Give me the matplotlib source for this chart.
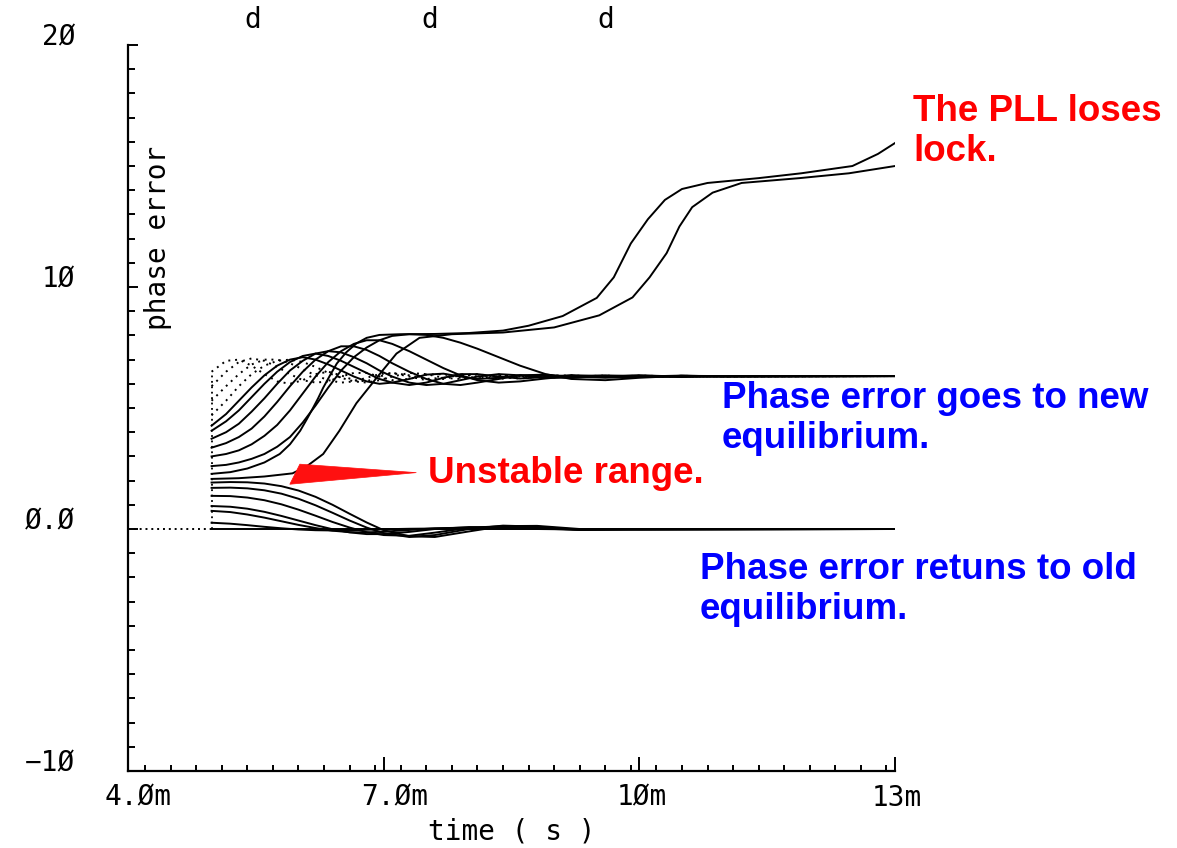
import numpy as np
import matplotlib.pyplot as plt
import matplotlib.transforms as mtransforms
from matplotlib.patches import Polygon
from matplotlib.ticker import MultipleLocator

# time is in ms, phase error in rad
t_step = 4.98

# curves that fall back to the old equilibrium
t_ret = [4.98, 5.2, 5.4, 5.6, 5.8, 6.0, 6.2, 6.4, 6.6, 6.8, 7.0, 7.3, 7.6, 8.0, 8.4, 8.8, 9.3, 10.0, 13.0]
ret_0 = [0.0] * 19
ret_1 = [0.26, 0.22, 0.16, 0.09, 0.03, -0.02, -0.05, -0.06, -0.05, -0.03, -0.01, 0.01, 0.02, 0.02, 0.01, 0.0, 0.0, 0.0, 0.0]
ret_2 = [0.75, 0.70, 0.60, 0.47, 0.32, 0.17, 0.04, -0.07, -0.13, -0.14, -0.11, -0.04, 0.03, 0.06, 0.04, 0.0, -0.02, 0.0, 0.0]
ret_3 = [0.95, 0.92, 0.84, 0.71, 0.54, 0.35, 0.16, -0.01, -0.14, -0.21, -0.21, -0.12, 0.0, 0.08, 0.07, 0.02, -0.03, 0.0, 0.0]
ret_4 = [1.37, 1.36, 1.30, 1.19, 1.02, 0.80, 0.55, 0.29, 0.06, -0.13, -0.25, -0.28, -0.15, 0.05, 0.12, 0.06, -0.04, -0.01, 0.0]
ret_5 = [1.70, 1.71, 1.68, 1.60, 1.46, 1.25, 0.98, 0.67, 0.35, 0.06, -0.17, -0.33, -0.25, 0.0, 0.14, 0.10, -0.03, -0.02, 0.0]
ret_6 = [1.92, 1.94, 1.93, 1.88, 1.77, 1.59, 1.33, 1.00, 0.63, 0.27, -0.05, -0.30, -0.33, -0.10, 0.12, 0.13, 0.0, -0.03, 0.0]

# curves that settle at the new equilibrium
t_new = [4.98, 5.15, 5.3, 5.45, 5.6, 5.75, 5.9, 6.05, 6.2, 6.35, 6.5, 6.65, 6.8, 6.95, 7.1,
         7.3, 7.5, 7.7, 7.9, 8.1, 8.35, 8.6, 8.9, 9.2, 9.6, 10.0, 10.5, 11.0, 13.0]
new_0 = [2.6, 2.65, 2.75, 2.9, 3.1, 3.4, 3.8, 4.4, 5.1, 5.85, 6.55, 7.1, 7.5, 7.8, 7.98,
         8.05, 8.02, 7.9, 7.7, 7.45, 7.1, 6.75, 6.4, 6.2, 6.15, 6.25, 6.33, 6.3, 6.32]
new_1 = [3.0, 3.1, 3.25, 3.5, 3.85, 4.3, 4.9, 5.6, 6.3, 6.9, 7.35, 7.65, 7.8, 7.8, 7.65,
         7.35, 7.0, 6.65, 6.35, 6.15, 6.05, 6.1, 6.22, 6.32, 6.35, 6.3, 6.28, 6.32, 6.32]
new_2 = [3.36, 3.55, 3.8, 4.15, 4.65, 5.25, 5.9, 6.5, 7.0, 7.35, 7.55, 7.55, 7.4, 7.15, 6.85,
         6.5, 6.2, 6.0, 5.95, 6.05, 6.2, 6.35, 6.38, 6.3, 6.25, 6.3, 6.34, 6.3, 6.32]
new_3 = [3.73, 4.0, 4.35, 4.85, 5.4, 6.0, 6.55, 6.95, 7.25, 7.35, 7.3, 7.1, 6.85, 6.55, 6.3,
         6.05, 5.95, 6.0, 6.15, 6.3, 6.4, 6.35, 6.25, 6.25, 6.32, 6.35, 6.3, 6.31, 6.32]
new_4 = [4.06, 4.45, 4.9, 5.45, 6.0, 6.5, 6.9, 7.15, 7.25, 7.15, 6.95, 6.7, 6.45, 6.2, 6.05,
         5.95, 6.05, 6.25, 6.4, 6.4, 6.3, 6.22, 6.28, 6.36, 6.3, 6.28, 6.33, 6.32, 6.32]
new_5 = [4.27, 4.75, 5.3, 5.85, 6.35, 6.75, 7.0, 7.1, 7.0, 6.8, 6.55, 6.3, 6.1, 6.0, 6.05,
         6.2, 6.38, 6.42, 6.3, 6.2, 6.25, 6.35, 6.33, 6.27, 6.3, 6.34, 6.3, 6.32, 6.32]
# fast, ringing ones (drawn sparse)
ring_0 = [4.7, 5.3, 5.9, 6.4, 6.75, 6.95, 7.0, 6.9, 6.7, 6.45, 6.25, 6.1, 6.05, 6.15, 6.3,
          6.45, 6.4, 6.25, 6.2, 6.3, 6.38, 6.3, 6.25, 6.33, 6.3, 6.3, 6.32, 6.3, 6.32]
ring_1 = [5.3, 5.9, 6.4, 6.8, 7.0, 7.0, 6.85, 6.6, 6.35, 6.15, 6.05, 6.1, 6.25, 6.4, 6.45,
          6.3, 6.15, 6.2, 6.35, 6.4, 6.28, 6.22, 6.32, 6.35, 6.28, 6.3, 6.33, 6.3, 6.32]
ring_2 = [5.9, 6.5, 6.9, 7.05, 6.95, 6.7, 6.4, 6.15, 6.05, 6.1, 6.3, 6.45, 6.45, 6.3, 6.15,
          6.2, 6.38, 6.4, 6.25, 6.22, 6.35, 6.35, 6.25, 6.3, 6.34, 6.28, 6.3, 6.32, 6.32]
ring_3 = [6.5, 6.95, 7.0, 6.75, 6.4, 6.1, 6.0, 6.15, 6.4, 6.5, 6.35, 6.15, 6.1, 6.3, 6.45,
          6.35, 6.2, 6.25, 6.4, 6.3, 6.2, 6.3, 6.38, 6.28, 6.28, 6.34, 6.3, 6.31, 6.32]

# curves that slip a cycle (lose lock)
t_slip_a = [4.98, 5.2, 5.4, 5.6, 5.78, 5.9, 6.02, 6.1, 6.17, 6.23, 6.29, 6.37, 6.45, 6.56, 6.68,
            6.8, 6.95, 7.2, 7.6, 8.0, 8.4, 8.7, 9.1, 9.5, 9.7, 9.9, 10.1, 10.3, 10.5, 10.8,
            11.4, 11.9, 12.5, 12.8, 13.0]
slip_a = [2.28, 2.35, 2.5, 2.75, 3.1, 3.5, 4.06, 4.55, 5.0, 5.4, 5.84, 6.35, 6.84, 7.3, 7.67,
          7.9, 8.02, 8.05, 8.06, 8.1, 8.2, 8.4, 8.8, 9.55, 10.4, 11.8, 12.8, 13.6, 14.05, 14.3,
          14.5, 14.7, 15.0, 15.5, 15.95]
t_slip_b = [4.98, 5.3, 5.6, 5.93, 6.1, 6.29, 6.48, 6.68, 6.92, 7.15, 7.42, 7.8, 8.4, 9.0, 9.53,
            9.92, 10.12, 10.32, 10.47, 10.62, 10.86, 11.2, 11.88, 12.46, 13.0]
slip_b = [2.07, 2.1, 2.17, 2.3, 2.6, 3.1, 4.06, 5.2, 6.26, 7.25, 7.9, 8.05, 8.12, 8.33, 8.83,
          9.57, 10.4, 11.4, 12.5, 13.3, 13.9, 14.3, 14.5, 14.7, 15.0]

x_ticks = [4, 7, 10, 13]
x_labels = ['4.Øm', '7.Øm', '1Øm', '13m']
y_ticks = [-10, 0, 10, 20]
y_labels = ['−1Ø', 'Ø.Ø', '1Ø', '2Ø']
marker_t = [5.465, 7.54, 9.61]

mono = 'DejaVu Sans Mono'
bold = dict(family='Liberation Sans', weight='bold', size=26.5)

fig = plt.figure(figsize=(11.77, 8.48), dpi=100)
ax = fig.add_axes([0.1088, 0.0908, 0.6516, 0.8561])

lw = 1.4
ax.plot([4.0, t_step], [0, 0], color='black', lw=1.4, ls=(0, (1, 2)))
starts = [ring_3[0]]
ax.vlines(t_step, 0, max(starts), color='black', lw=1.3, linestyles=(0, (1, 2)))

for v in [ret_0, ret_1, ret_2, ret_3, ret_4, ret_5, ret_6]:
    ax.plot(t_ret, v, color='black', lw=lw)
for v in [new_0, new_1, new_2, new_3, new_4, new_5]:
    ax.plot(t_new, v, color='black', lw=lw)
for v in [ring_0, ring_1, ring_2, ring_3]:
    ax.plot(t_new, v, color='black', lw=lw, ls=(0, (1, 2.5)))
ax.plot(t_slip_a, slip_a, color='black', lw=lw)
ax.plot(t_slip_b, slip_b, color='black', lw=lw)

ax.set_xlim(4, 13)
ax.set_ylim(-10, 20)
for s in ['top', 'right']:
    ax.spines[s].set_visible(False)
for s in ['left', 'bottom']:
    ax.spines[s].set_linewidth(1.6)

ax.set_xticks(x_ticks)
ax.set_xticklabels(x_labels, fontfamily=mono, fontsize=20)
ax.set_yticks(y_ticks)
ax.set_yticklabels(y_labels, fontfamily=mono, fontsize=20)
ax.xaxis.set_minor_locator(MultipleLocator(0.3))
ax.yaxis.set_minor_locator(MultipleLocator(1))
ax.tick_params(axis='x', which='major', direction='in', length=10, width=1.4, pad=9)
ax.tick_params(axis='x', which='minor', direction='in', length=4.3, width=1.4)
ax.tick_params(axis='y', which='major', direction='in', length=7, width=1.4, pad=38)
ax.tick_params(axis='y', which='minor', direction='in', length=5, width=1.4)

shift = mtransforms.ScaledTranslation(-0.23, 0, fig.dpi_scale_trans)
for lab in ax.get_xticklabels():
    lab.set_ha('left')
    lab.set_transform(lab.get_transform() + shift)
for lab in ax.get_yticklabels():
    lab.set_va('baseline')

ax.set_xlabel('time ( s )', fontfamily=mono, fontsize=20, labelpad=4)
ax.text(0.039, 0.734, 'phase error', transform=ax.transAxes, rotation=90,
        ha='center', va='center', fontfamily=mono, fontsize=20)

top = mtransforms.blended_transform_factory(ax.transData, ax.transAxes)
for t in marker_t:
    ax.text(t, 1.034, 'd', transform=top, ha='center', va='center',
            fontfamily=mono, fontsize=20, clip_on=False)

# pointer at the unstable region
ax.add_patch(Polygon([(6.016, 2.68), (5.898, 1.85), (7.383, 2.33)], closed=True,
                     facecolor='#ff1010', edgecolor='#ff1010', lw=0.5, zorder=5))

# baselines below are for the last line of each note
fig.text(913 / 1177, 1 - 161 / 848, 'The PLL loses\nlock.', color='#ff0000',
         ha='left', va='baseline', **bold)
fig.text(722 / 1177, 1 - 448 / 848, 'Phase error goes to new\nequilibrium.', color='#0000ff',
         ha='left', va='baseline', **bold)
fig.text(428 / 1177, 1 - 483 / 848, 'Unstable range.', color='#ff0000',
         ha='left', va='baseline', **bold)
fig.text(700 / 1177, 1 - 619 / 848, 'Phase error retuns to old\nequilibrium.', color='#0000ff',
         ha='left', va='baseline', **bold)

fig.savefig('out.png', dpi=100)
